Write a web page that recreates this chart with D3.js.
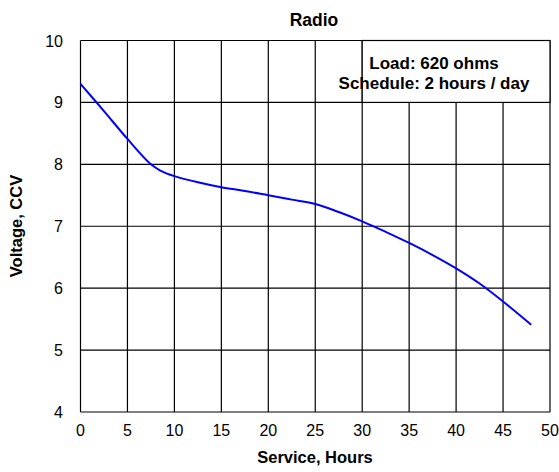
<html>
  <head>
    <script src="https://d3js.org/d3.v7.min.js"></script>
    <style>
      body { margin: 0; background: #fff; }
      text { font-family: "Liberation Sans", Arial, sans-serif; fill: #000; }
    </style>
  </head>
  <body>
    <svg width="559" height="472"></svg>
    <script>
      // values
      var hours = [0, 2.5, 5, 7.5, 8.5, 10, 12.5, 15, 17.5, 20, 22.5, 25, 27.5, 30, 32.5, 35, 37.5, 40, 42.5, 45, 48];
      var volts = [9.30, 8.86, 8.41, 8.00, 7.90, 7.81, 7.71, 7.63, 7.57, 7.50, 7.43, 7.36, 7.23, 7.08, 6.91, 6.73, 6.535, 6.32, 6.075, 5.785, 5.41];
      var xTicks = [0, 5, 10, 15, 20, 25, 30, 35, 40, 45, 50];
      var yTicks = [4, 5, 6, 7, 8, 9, 10];
      var legendLines = ["Load: 620 ohms", "Schedule: 2 hours / day"];

      var svg = d3.select("svg");
      var x = d3.scaleLinear().domain([0, 50]).range([80.5, 550]);
      var y = d3.scaleLinear().domain([4, 10]).range([412, 40.5]);

      // grid
      svg.append("g")
        .selectAll("line")
        .data(xTicks)
        .enter().append("line")
          .attr("x1", function(d) { return x(d); })
          .attr("x2", function(d) { return x(d); })
          .attr("y1", y(4))
          .attr("y2", y(10))
          .attr("stroke", "#000")
          .attr("stroke-width", 1.2);
      svg.append("g")
        .selectAll("line")
        .data(yTicks)
        .enter().append("line")
          .attr("x1", x(0))
          .attr("x2", x(50))
          .attr("y1", function(d) { return y(d); })
          .attr("y2", function(d) { return y(d); })
          .attr("stroke", "#000")
          .attr("stroke-width", 1.2);

      // legend box sits on top of the grid
      svg.append("rect")
        .attr("x", x(30))
        .attr("y", y(10))
        .attr("width", x(50) - x(30))
        .attr("height", y(9) - y(10))
        .attr("fill", "#fff")
        .attr("stroke", "#000")
        .attr("stroke-width", 1.2);

      svg.append("text")
        .attr("text-anchor", "middle")
        .attr("font-size", "17px")
        .attr("font-weight", "bold")
        .selectAll("tspan")
        .data(legendLines)
        .enter().append("tspan")
          .attr("x", 434)
          .attr("y", function(d, i) { return 69 + i * 20; })
          .text(function(d) { return d; });

      // curve
      var pts = hours.map(function(h, i) { return [h, volts[i]]; });
      svg.append("path")
        .datum(pts)
        .attr("fill", "none")
        .attr("stroke", "#0000ff")
        .attr("stroke-width", 2)
        .attr("d", d3.line()
          .x(function(d) { return x(d[0]); })
          .y(function(d) { return y(d[1]); })
          .curve(d3.curveCatmullRom.alpha(0.5)));

      // tick labels
      svg.append("g")
        .selectAll("text")
        .data(xTicks)
        .enter().append("text")
          .attr("x", function(d) { return x(d); })
          .attr("y", 436)
          .attr("text-anchor", "middle")
          .attr("font-size", "16px")
          .text(function(d) { return d; });
      svg.append("g")
        .selectAll("text")
        .data(yTicks)
        .enter().append("text")
          .attr("x", 63)
          .attr("y", function(d) { return y(d) + 6; })
          .attr("text-anchor", "end")
          .attr("font-size", "16px")
          .text(function(d) { return d; });

      // titles
      svg.append("text")
        .attr("x", 314)
        .attr("y", 26)
        .attr("text-anchor", "middle")
        .attr("font-size", "17.5px")
        .attr("font-weight", "bold")
        .text("Radio");

      svg.append("text")
        .attr("x", 315)
        .attr("y", 463)
        .attr("text-anchor", "middle")
        .attr("font-size", "16.5px")
        .attr("font-weight", "bold")
        .text("Service, Hours");

      svg.append("text")
        .attr("transform", "rotate(-90)")
        .attr("x", -226)
        .attr("y", 22)
        .attr("text-anchor", "middle")
        .attr("font-size", "16.5px")
        .attr("font-weight", "bold")
        .text("Voltage, CCV");
    </script>
  </body>
</html>
